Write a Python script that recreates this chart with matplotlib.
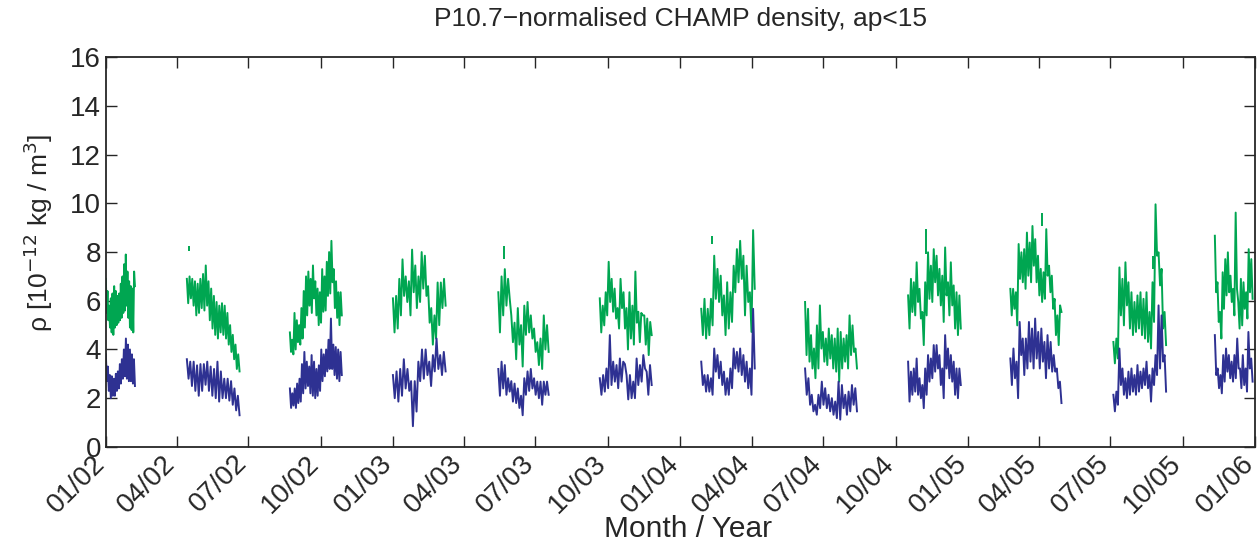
import numpy as np
import pandas as pd
import matplotlib
matplotlib.use("Agg")
import matplotlib.pyplot as plt
import matplotlib.dates as mdates
import matplotlib.transforms as mtransforms

plt.rcParams['font.family'] = ['Liberation Sans', 'DejaVu Sans']

# data segments (CHAMP coverage windows, ap<15)
seg_start = ["2002-01-01", "2002-04-14", "2002-08-23", "2003-01-01", "2003-05-15", "2003-09-21",
             "2004-01-28", "2004-06-08", "2004-10-17", "2005-02-24", "2005-07-05", "2005-11-11"]
seg_end = ["2002-02-07", "2002-06-20", "2002-10-28", "2003-03-09", "2003-07-18", "2003-11-26",
           "2004-04-05", "2004-08-13", "2004-12-23", "2005-04-30", "2005-09-10", "2005-12-29"]

# green series: upper / lower envelope read along each window
green_hi = [
    [6.9, 6.4, 5.8, 6.1, 6.3, 6.6, 6.4, 6.2, 6.3, 6.7, 7.0, 7.5, 7.9, 7.2, 6.8, 6.6, 6.5, 7.2],
    [6.9, 7.0, 6.9, 6.8, 6.7, 6.9, 7.1, 7.45, 6.8, 6.5, 6.2, 5.95, 5.8, 5.9, 5.8, 5.5, 5.0, 4.6, 4.2, 3.8],
    [4.7, 4.4, 5.5, 5.2, 5.0, 5.7, 6.4, 7.0, 7.2, 6.9, 7.45, 6.8, 6.5, 6.35, 7.3, 7.0, 7.6, 8.0, 8.46, 7.3, 6.8, 6.35, 6.35],
    [6.1, 6.2, 6.9, 7.7, 7.0, 6.8, 8.1, 7.45, 7.0, 8.0, 7.85, 6.6, 5.7, 5.4, 6.75, 6.75, 6.9],
    [6.35, 7.0, 7.3, 6.9, 5.4, 5.1, 5.7, 5.0, 5.8, 5.95, 5.4, 4.86, 4.3, 4.45, 5.4, 5.0],
    [6.1, 5.8, 6.35, 7.6, 6.9, 6.5, 5.7, 6.9, 6.35, 5.7, 6.35, 5.8, 7.2, 5.55, 5.5, 5.4, 5.27, 5.13],
    [5.67, 6.08, 5.67, 6.08, 7.85, 7.31, 7.03, 6.22, 6.76, 6.35, 7.44, 8.12, 8.46, 7.85, 7.44, 6.35, 8.9],
    [5.95, 5.67, 4.59, 4.04, 4.99, 5.81, 4.72, 4.45, 4.86, 4.59, 4.45, 4.86, 4.72, 4.45, 4.59, 5.40, 4.99, 4.04],
    [6.22, 6.90, 6.76, 7.58, 6.49, 5.54, 6.76, 7.99, 7.44, 8.12, 7.85, 7.31, 7.03, 8.19, 6.76, 7.58, 6.63, 6.35, 6.22],
    [6.49, 6.49, 6.35, 8.33, 7.99, 8.12, 8.80, 8.39, 9.07, 8.53, 7.85, 7.31, 7.17, 8.94, 7.44, 7.03, 6.08, 5.40, 5.81],
    [4.31, 4.45, 7.37, 6.90, 7.58, 6.76, 6.35, 5.95, 6.22, 6.35, 6.08, 6.35, 5.54, 6.76, 9.96, 7.99, 7.31, 5.54],
    [8.67, 6.76, 5.54, 7.17, 7.71, 7.99, 7.03, 6.49, 9.62, 5.95, 6.90, 6.76, 6.35, 8.12, 7.71],
]
green_lo = [
    [5.5, 5.2, 4.9, 4.7, 4.6, 4.9, 5.0, 5.1, 5.2, 5.3, 5.5, 5.6, 5.8, 5.3, 4.9, 4.8, 4.7, 6.6],
    [5.9, 6.1, 5.8, 5.4, 5.5, 5.7, 5.6, 5.8, 5.2, 4.86, 4.6, 4.45, 4.7, 4.6, 4.45, 4.2, 3.9, 3.6, 3.2, 3.1],
    [3.9, 3.8, 4.0, 4.3, 4.2, 4.45, 4.9, 5.4, 5.8, 5.5, 6.1, 5.4, 5.0, 5.1, 5.55, 5.6, 6.2, 6.3, 6.76, 5.7, 5.3, 5.0, 5.4],
    [4.7, 4.86, 5.4, 6.2, 5.95, 5.4, 6.35, 5.7, 5.95, 6.5, 6.2, 5.1, 4.2, 4.45, 5.0, 5.7, 5.8],
    [4.7, 5.4, 5.8, 6.1, 4.3, 3.6, 4.2, 3.3, 4.6, 4.7, 4.45, 3.9, 3.36, 3.2, 4.0, 3.9],
    [4.7, 4.99, 5.4, 5.95, 5.55, 5.27, 4.86, 5.7, 4.86, 4.0, 4.45, 4.2, 5.1, 4.3, 5.4, 4.2, 3.77, 4.59],
    [4.59, 4.45, 4.59, 4.99, 6.08, 5.95, 5.40, 4.59, 4.86, 5.13, 6.35, 6.76, 6.90, 5.40, 5.95, 4.72, 6.49],
    [3.77, 3.50, 3.22, 2.82, 3.22, 4.04, 3.50, 3.36, 3.63, 3.22, 3.09, 2.68, 3.22, 3.50, 3.22, 3.77, 3.90, 3.22],
    [4.86, 5.54, 5.40, 5.95, 5.27, 4.18, 5.40, 6.08, 5.95, 6.76, 6.22, 5.81, 5.13, 6.22, 5.40, 5.81, 4.86, 4.59, 4.86],
    [5.40, 5.67, 4.99, 6.90, 6.76, 6.49, 7.03, 6.76, 7.44, 6.76, 6.22, 5.95, 6.08, 7.03, 6.35, 5.67, 4.59, 4.18, 5.54],
    [3.43, 3.63, 5.40, 4.99, 5.81, 4.86, 4.59, 4.72, 4.86, 4.59, 4.45, 4.31, 4.04, 5.13, 7.85, 6.63, 4.86, 4.18],
    [6.35, 5.13, 4.45, 5.67, 6.22, 6.35, 5.95, 5.40, 6.49, 4.86, 4.99, 5.67, 5.27, 6.35, 6.08],
]

# blue series
blue_hi = [
    [3.8, 3.3, 2.95, 2.9, 2.8, 3.0, 3.1, 3.4, 3.6, 4.0, 4.45, 4.2, 4.0, 3.8, 3.6],
    [3.6, 3.5, 3.5, 3.35, 3.4, 3.4, 3.5, 3.3, 3.2, 3.5, 3.1, 2.8, 2.8, 2.7, 2.4, 2.1],
    [2.4, 2.2, 2.4, 2.6, 2.8, 3.4, 3.9, 3.5, 3.3, 3.77, 3.5, 3.2, 3.35, 4.0, 3.8, 4.0, 4.4, 5.27, 4.2, 4.1, 4.0, 3.9],
    [2.95, 3.1, 3.2, 3.6, 3.2, 2.7, 2.7, 3.5, 4.0, 4.0, 3.5, 3.77, 4.45, 3.77, 3.9],
    [3.2, 3.5, 3.36, 2.82, 2.7, 2.6, 2.4, 2.1, 2.82, 3.1, 3.2, 2.82, 2.68, 2.68, 2.68, 2.68],
    [2.82, 2.95, 3.22, 4.59, 3.5, 3.36, 3.63, 3.5, 2.95, 2.95, 2.68, 3.63, 3.36, 3.77, 3.09, 3.36],
    [3.5, 2.95, 2.95, 2.82, 4.04, 3.77, 3.5, 3.09, 2.82, 3.22, 4.04, 3.9, 4.04, 3.77, 3.5, 3.22, 5.67],
    [3.22, 2.82, 2.14, 1.73, 2.14, 2.68, 2.41, 2.14, 2.0, 1.86, 2.68, 2.54, 2.14, 2.27, 2.54, 2.41],
    [3.5, 3.09, 3.22, 3.63, 2.82, 2.54, 3.22, 3.77, 3.63, 4.18, 4.18, 3.77, 3.22, 4.59, 4.04, 3.77, 3.5, 3.22, 3.22],
    [3.63, 4.04, 3.5, 5.13, 4.45, 4.45, 5.13, 4.86, 5.27, 4.72, 4.86, 4.31, 4.59, 4.31, 3.77, 3.22, 2.68],
    [2.14, 2.27, 4.04, 3.22, 2.82, 3.09, 3.22, 2.95, 3.36, 3.09, 3.22, 3.5, 2.95, 3.22, 3.77, 5.81, 5.40, 3.77],
    [4.59, 3.22, 2.95, 3.77, 4.04, 3.77, 3.5, 3.77, 4.45, 3.22, 3.77, 3.22, 4.72, 3.63],
]
blue_lo = [
    [2.7, 2.3, 2.0, 2.1, 2.1, 2.3, 2.4, 2.6, 2.8, 2.9, 2.8, 2.7, 2.7, 2.6, 2.5],
    [2.8, 2.5, 2.3, 2.1, 2.3, 2.55, 2.3, 2.1, 2.0, 1.86, 2.0, 2.0, 1.9, 1.73, 1.5, 1.3],
    [1.6, 1.7, 1.6, 1.8, 1.86, 2.2, 2.4, 2.5, 2.2, 2.1, 2.0, 2.1, 2.3, 2.7, 2.9, 3.1, 3.2, 3.2, 2.95, 2.8, 2.7, 2.95],
    [2.0, 1.86, 2.1, 2.4, 2.3, 0.85, 1.45, 2.7, 2.8, 2.95, 2.5, 3.1, 3.2, 2.95, 3.1],
    [2.1, 2.4, 2.14, 2.27, 1.86, 1.8, 1.6, 1.3, 2.14, 2.3, 2.4, 2.14, 2.0, 1.73, 2.14, 2.14],
    [2.14, 2.27, 2.41, 2.54, 2.68, 2.41, 2.68, 3.4, 1.95, 2.0, 2.0, 2.54, 2.68, 3.22, 2.14, 2.54],
    [2.54, 2.27, 2.27, 2.14, 3.09, 2.82, 2.54, 2.14, 2.14, 2.41, 3.22, 3.09, 2.95, 2.68, 2.41, 2.14, 3.22],
    [2.14, 1.73, 1.46, 1.32, 1.59, 1.73, 1.59, 1.46, 1.32, 1.18, 1.12, 1.59, 1.32, 1.46, 1.73, 1.46],
    [1.86, 2.14, 2.27, 2.14, 2.0, 1.59, 2.14, 2.68, 2.82, 3.09, 3.22, 2.54, 2.0, 3.22, 2.82, 2.68, 2.14, 2.0, 2.54],
    [2.54, 2.82, 2.0, 3.77, 2.95, 3.22, 3.5, 3.22, 3.63, 3.22, 3.5, 2.82, 3.22, 3.09, 3.09, 2.41, 1.80],
    [1.46, 1.73, 2.54, 2.14, 2.0, 2.14, 2.27, 2.14, 2.27, 2.41, 2.54, 2.41, 1.86, 2.54, 2.95, 3.22, 3.5, 2.27],
    [2.95, 2.41, 2.2, 2.68, 3.09, 2.82, 2.68, 2.82, 3.22, 2.41, 2.54, 2.27, 3.22, 2.68],
]

# isolated green dashes
stray_dates = ["2002-04-17", "2003-05-22", "2004-02-11", "2004-11-09", "2005-04-05", "2005-08-24"]
stray_hi = [8.26, 8.26, 8.67, 8.94, 9.62, 7.85]
stray_lo = [8.05, 7.71, 8.33, 7.92, 9.07, 7.31]

GREEN = "#00A651"
BLUE = "#2E3192"
INK = "#262626"

fig = plt.figure(figsize=(12.6, 5.45), dpi=100)
ax = fig.add_axes([0.084, 0.180, 0.912, 0.715])


def zigzag(start, end, hi, lo):
    t0 = pd.Timestamp(start)
    t1 = pd.Timestamp(end)
    n = len(hi)
    frac = np.linspace(0, 1, 2 * n)
    t = [t0 + (t1 - t0) * f for f in frac]
    v = np.empty(2 * n)
    v[0::2] = hi
    v[1::2] = lo
    return t, v


for i in range(len(seg_start)):
    t, v = zigzag(seg_start[i], seg_end[i], green_hi[i], green_lo[i])
    ax.plot(t, v, color=GREEN, lw=1.4)
    t, v = zigzag(seg_start[i], seg_end[i], blue_hi[i], blue_lo[i])
    ax.plot(t, v, color=BLUE, lw=1.4)

ax.vlines(pd.to_datetime(stray_dates), stray_lo, stray_hi, color=GREEN, lw=1.4)

ax.set_xlim(pd.Timestamp("2002-01-01"), pd.Timestamp("2006-01-01"))
ax.set_ylim(0, 16)
ax.set_yticks(np.arange(0, 17, 2))
ax.xaxis.set_major_locator(mdates.MonthLocator(bymonth=[1, 4, 7, 10]))
ax.xaxis.set_major_formatter(mdates.DateFormatter("%m/%y"))
ax.tick_params(direction="in", top=True, right=True, length=8, width=1.0,
               labelsize=20, colors=INK)
ax.tick_params(axis="x", pad=9)
shift = mtransforms.ScaledTranslation(-5 / 100, 0, fig.dpi_scale_trans)
for lab in ax.get_xticklabels():
    lab.set_rotation(45)
    lab.set_ha("right")
    lab.set_va("center")
    lab.set_rotation_mode("anchor")
    lab.set_transform(lab.get_transform() + shift)
for s in ax.spines.values():
    s.set_linewidth(1.3)
    s.set_color(INK)

fig.text(0.54, 1 - 19 / 545, "P10.7\u2212normalised CHAMP density, ap<15",
         fontsize=19, color=INK, ha="center", va="center")
ax.set_xlabel("Month / Year", fontsize=21.5, color=INK, va="center")
ax.xaxis.set_label_coords(0.507, -0.21)
ax.set_ylabel("\u03c1 [10$^{\u221212}$ kg / m$^3$]", fontsize=19, color=INK, va="center")
ax.yaxis.set_label_coords(-0.059, 0.55)

fig.savefig("out.png", dpi=100)
